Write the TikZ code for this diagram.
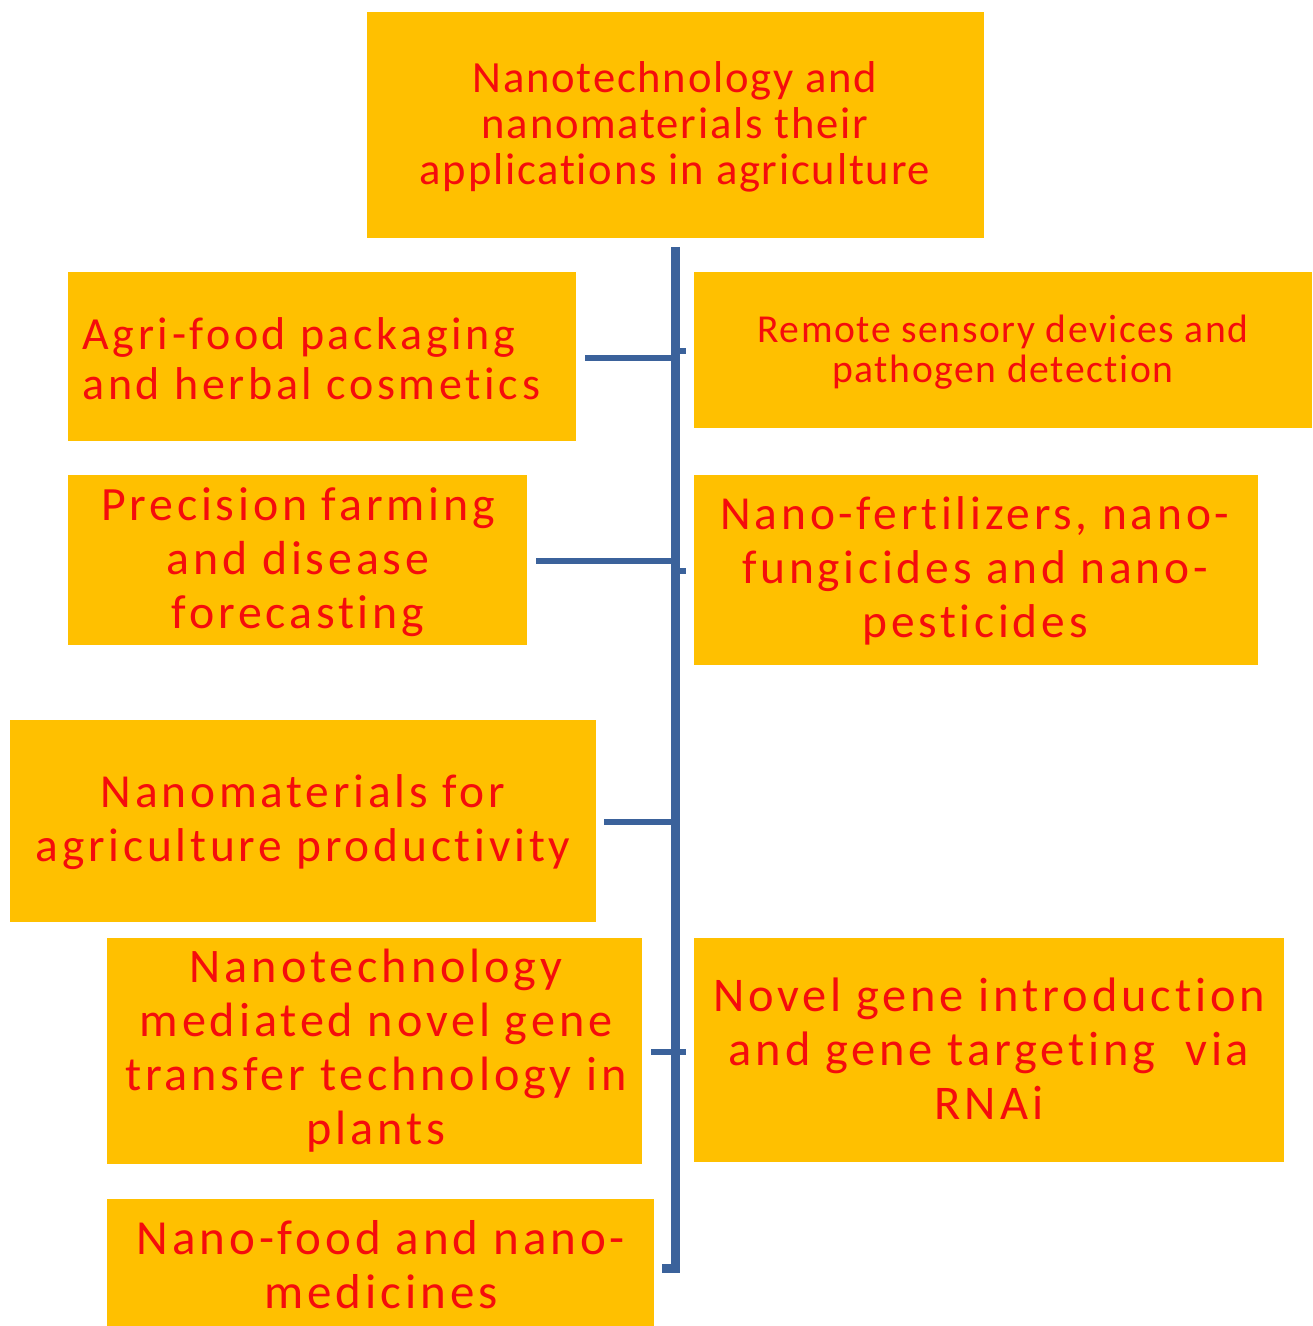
\documentclass[tikz,border=0pt]{standalone}
\usepackage{fontspec}
\setmainfont{Carlito}[Ligatures=NoCommon]
\usetikzlibrary{fit}
\definecolor{boxfill}{RGB}{255,192,0}
\definecolor{txtred}{RGB}{245,12,12}
\definecolor{linkblue}{RGB}{59,98,155}
\begin{document}
\begin{tikzpicture}[x=0.5pt,y=-0.5pt,
  box/.style={fill=boxfill, draw=none, inner sep=0pt},
  txt/.style={text=txtred, align=center, inner sep=0pt},
  spine/.style={draw=linkblue, line width=4.5pt},
  stub/.style={draw=linkblue, line width=3.2pt},
  fa/.style={font={\fontsize{22.3pt}{23pt}\selectfont\addfontfeatures{LetterSpace=4}}},
  fb/.style={font={\fontsize{23pt}{25pt}\selectfont\addfontfeatures{LetterSpace=8}}},
  fc/.style={font={\fontsize{19.8pt}{20pt}\selectfont\addfontfeatures{LetterSpace=4}}},
  fd/.style={font={\fontsize{#1}{27pt}\selectfont\addfontfeatures{LetterSpace=8}}}]
\useasboundingbox (0,0) rectangle (1312,1326);
% boxes
\node[box, fit={(367,12) (984,238)}] (top) {};
\node[box, fit={(68,272) (576,441)}] (agri) {};
\node[box, fit={(694,272) (1312,428)}] (remote) {};
\node[box, fit={(68,475) (527,645)}] (prec) {};
\node[box, fit={(694,475) (1258,665)}] (fert) {};
\node[box, fit={(10,720) (596,922)}] (prod) {};
\node[box, fit={(107,938) (642,1164)}] (gene) {};
\node[box, fit={(694,938) (1284,1162)}] (rnai) {};
\node[box, fit={(107,1199) (654,1326)}] (food) {};
% texts
\node[txt, fa] (t-top) at (675,127) {Nanotechnology and\\nanomaterials their\\applications in agriculture};
\node[txt, fb, align=left, anchor=west] (t-agri) at (82,359) {Agri-food packaging\\and herbal cosmetics};
\node[txt, fc] (t-remote) at (1003,352) {Remote sensory devices and\\pathogen detection};
\node[txt, fd=23.9pt] (t-prec) at (298,562) {Precision farming\\and disease\\forecasting};
\node[txt, fd=23.7pt] (t-fert) at (975,571) {Nano-fertilizers, nano-\\fungicides and nano-\\pesticides};
\node[txt, fd=23.7pt] (t-prod) at (303,822) {Nanomaterials for\\agriculture productivity};
\node[txt, fd=24.1pt] (t-gene) at (376,1051) {Nanotechnology\\mediated novel gene\\transfer technology in\\plants};
\node[txt, fd=24.2pt] (t-rnai) at (989,1049) {Novel gene introduction\\and gene targeting\ \ via\\RNAi};
\node[txt, fd=24.5pt] (t-food) at (381,1265) {Nano-food and nano-\\medicines};
% spine
\coordinate (sp-top) at (675,247);
\coordinate (sp-bot) at (675,1268);
\coordinate (sp-end) at (662,1268);
\draw[spine] (sp-top) -- (sp-bot) -- (sp-end);
% stubs to left boxes
\coordinate (j1) at (675,358);
\coordinate (j2) at (675,561);
\coordinate (j3) at (675,822);
\coordinate (j4) at (686,1052);
\draw[stub] ([xshift=4.5pt]agri.east |- j1) -- (j1);
\draw[stub] ([xshift=4.5pt]prec.east |- j2) -- (j2);
\draw[stub] ([xshift=4pt]prod.east |- j3) -- (j3);
\draw[stub] ([xshift=4.5pt]gene.east |- j4) -- (j4);
% right ticks
\coordinate (r1) at (686,351);
\coordinate (r2) at (686,571);
\draw[stub] (sp-top |- r1) -- (r1);
\draw[stub] (sp-top |- r2) -- (r2);
\end{tikzpicture}
\end{document}
